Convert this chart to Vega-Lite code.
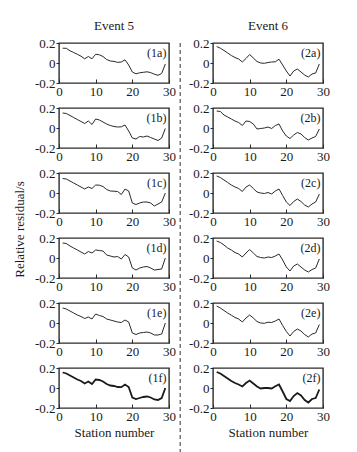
{
 "$schema": "https://vega.github.io/schema/vega-lite/v6.json",
 "padding": {"left": 13, "top": 19, "right": 5, "bottom": 5},
 "background": "white",
 "config": {
  "view": {"stroke": "#2b2b2b", "strokeWidth": 1.4},
  "font": "Liberation Serif",
  "axis": {"domain": false, "grid": false, "labelFont": "Liberation Serif", "labelFontSize": 13, "labelColor": "#1a1a1a", "tickColor": "#2b2b2b", "labelFlush": false, "labelOverlap": false, "labelBound": false, "titleFont": "Liberation Serif", "titleFontSize": 13, "titleFontWeight": "normal", "titleColor": "#1a1a1a", "titlePadding": 3},
  "axisX": {"tickSize": -4, "labelPadding": 6, "labelOverlap": false},
  "axisY": {"tickSize": 3, "labelPadding": 1, "labelOverlap": false},
  "title": {"font": "Liberation Serif", "fontSize": 13, "fontWeight": "normal", "color": "#1a1a1a", "offset": 0}
 },
 "data": {"values": [
  {"s":1,"1a":0.148,"1b":0.15,"1c":0.145,"1d":0.15,"1e":0.15,"1f":0.155,"2a":0.165,"2b":0.17,"2c":0.17,"2d":0.17,"2e":0.17,"2f":0.16},
  {"s":2,"1a":0.147,"1b":0.145,"1c":0.14,"1d":0.145,"1e":0.14,"1f":0.145,"2a":0.148,"2b":0.165,"2c":0.155,"2d":0.155,"2e":0.15,"2f":0.145},
  {"s":3,"1a":0.122,"1b":0.125,"1c":0.12,"1d":0.12,"1e":0.12,"1f":0.125,"2a":0.125,"2b":0.13,"2c":0.13,"2d":0.13,"2e":0.125,"2f":0.12},
  {"s":4,"1a":0.105,"1b":0.105,"1c":0.1,"1d":0.1,"1e":0.1,"1f":0.105,"2a":0.1,"2b":0.11,"2c":0.105,"2d":0.1,"2e":0.1,"2f":0.095},
  {"s":5,"1a":0.087,"1b":0.085,"1c":0.08,"1d":0.08,"1e":0.08,"1f":0.085,"2a":0.075,"2b":0.09,"2c":0.08,"2d":0.08,"2e":0.078,"2f":0.07},
  {"s":6,"1a":0.068,"1b":0.065,"1c":0.06,"1d":0.06,"1e":0.065,"1f":0.07,"2a":0.055,"2b":0.07,"2c":0.06,"2d":0.055,"2e":0.055,"2f":0.05},
  {"s":7,"1a":0.042,"1b":0.045,"1c":0.04,"1d":0.04,"1e":0.045,"1f":0.045,"2a":0.04,"2b":0.055,"2c":0.045,"2d":0.04,"2e":0.04,"2f":0.035},
  {"s":8,"1a":0.065,"1b":0.07,"1c":0.06,"1d":0.065,"1e":0.06,"1f":0.065,"2a":0.01,"2b":0.025,"2c":0.015,"2d":0.01,"2e":0.01,"2f":0.015},
  {"s":9,"1a":0.042,"1b":0.035,"1c":0.045,"1d":0.05,"1e":0.04,"1f":0.04,"2a":0.045,"2b":0.07,"2c":0.06,"2d":0.05,"2e":0.05,"2f":0.05},
  {"s":10,"1a":0.088,"1b":0.09,"1c":0.08,"1d":0.08,"1e":0.09,"1f":0.085,"2a":0.085,"2b":0.065,"2c":0.08,"2d":0.085,"2e":0.08,"2f":0.075},
  {"s":11,"1a":0.082,"1b":0.08,"1c":0.078,"1d":0.075,"1e":0.075,"1f":0.08,"2a":0.05,"2b":0.04,"2c":0.045,"2d":0.05,"2e":0.05,"2f":0.045},
  {"s":12,"1a":0.065,"1b":0.06,"1c":0.065,"1d":0.07,"1e":0.065,"1f":0.065,"2a":0.015,"2b":-0.01,"2c":0.01,"2d":0.015,"2e":0.015,"2f":0.015},
  {"s":13,"1a":0.035,"1b":0.04,"1c":0.035,"1d":0.03,"1e":0.04,"1f":0.04,"2a":0.0,"2b":-0.005,"2c":0.0,"2d":0.005,"2e":0.0,"2f":-0.005},
  {"s":14,"1a":0.02,"1b":0.025,"1c":0.02,"1d":0.02,"1e":0.03,"1f":0.025,"2a":-0.003,"2b":0.0,"2c":-0.005,"2d":0.0,"2e":-0.003,"2f":0.0},
  {"s":15,"1a":0.016,"1b":0.015,"1c":0.018,"1d":0.01,"1e":0.02,"1f":0.02,"2a":0.005,"2b":0.01,"2c":0.005,"2d":0.01,"2e":0.008,"2f":0.0},
  {"s":16,"1a":0.006,"1b":0.01,"1c":0.015,"1d":0.015,"1e":0.01,"1f":0.01,"2a":0.01,"2b":-0.005,"2c":-0.01,"2d":0.005,"2e":0.005,"2f":-0.005},
  {"s":17,"1a":0.01,"1b":0.012,"1c":-0.015,"1d":-0.01,"1e":0.005,"1f":0.008,"2a":0.012,"2b":0.025,"2c":0.02,"2d":0.02,"2e":0.02,"2f":0.017},
  {"s":18,"1a":0.032,"1b":0.03,"1c":0.04,"1d":0.035,"1e":0.03,"1f":0.035,"2a":0.038,"2b":0.04,"2c":0.04,"2d":0.04,"2e":0.04,"2f":0.035},
  {"s":19,"1a":-0.02,"1b":-0.03,"1c":0.02,"1d":0.01,"1e":0.01,"1f":0.01,"2a":-0.02,"2b":-0.03,"2c":-0.025,"2d":-0.02,"2e":-0.025,"2f":-0.035},
  {"s":20,"1a":-0.09,"1b":-0.1,"1c":-0.1,"1d":-0.1,"1e":-0.1,"1f":-0.095,"2a":-0.08,"2b":-0.08,"2c":-0.09,"2d":-0.09,"2e":-0.085,"2f":-0.11},
  {"s":21,"1a":-0.108,"1b":-0.11,"1c":-0.115,"1d":-0.12,"1e":-0.115,"1f":-0.11,"2a":-0.13,"2b":-0.105,"2c":-0.125,"2d":-0.13,"2e":-0.13,"2f":-0.13},
  {"s":22,"1a":-0.098,"1b":-0.085,"1c":-0.1,"1d":-0.1,"1e":-0.1,"1f":-0.1,"2a":-0.08,"2b":-0.07,"2c":-0.085,"2d":-0.08,"2e":-0.085,"2f":-0.08},
  {"s":23,"1a":-0.093,"1b":-0.09,"1c":-0.09,"1d":-0.09,"1e":-0.095,"1f":-0.09,"2a":-0.06,"2b":-0.045,"2c":-0.06,"2d":-0.06,"2e":-0.06,"2f":-0.05},
  {"s":24,"1a":-0.088,"1b":-0.08,"1c":-0.09,"1d":-0.085,"1e":-0.09,"1f":-0.085,"2a":-0.09,"2b":-0.06,"2c":-0.085,"2d":-0.09,"2e":-0.08,"2f":-0.075},
  {"s":25,"1a":-0.096,"1b":-0.095,"1c":-0.1,"1d":-0.1,"1e":-0.1,"1f":-0.095,"2a":-0.12,"2b":-0.095,"2c":-0.12,"2d":-0.12,"2e":-0.115,"2f":-0.12},
  {"s":26,"1a":-0.112,"1b":-0.11,"1c":-0.13,"1d":-0.12,"1e":-0.12,"1f":-0.115,"2a":-0.14,"2b":-0.12,"2c":-0.14,"2d":-0.14,"2e":-0.14,"2f":-0.145},
  {"s":27,"1a":-0.123,"1b":-0.125,"1c":-0.11,"1d":-0.115,"1e":-0.12,"1f":-0.12,"2a":-0.11,"2b":-0.1,"2c":-0.11,"2d":-0.115,"2e":-0.11,"2f":-0.11},
  {"s":28,"1a":-0.105,"1b":-0.1,"1c":-0.09,"1d":-0.11,"1e":-0.11,"1f":-0.1,"2a":-0.1,"2b":-0.085,"2c":-0.09,"2d":-0.1,"2e":-0.1,"2f":-0.1},
  {"s":29,"1a":-0.01,"1b":-0.005,"1c":0.0,"1d":0.0,"1e":0.0,"1f":0.0,"2a":-0.01,"2b":-0.01,"2c":-0.01,"2d":-0.01,"2e":-0.015,"2f":-0.015}
 ]},
 "transform": [{"fold": ["1a","1b","1c","1d","1e","1f","2a","2b","2c","2d","2e","2f"], "as": ["panel","r"]}],
 "spacing": 2,
 "hconcat": [
  {
   "title": {"text": "Relative residual/s", "orient": "left", "anchor": "middle", "offset": 7},
   "bounds": "flush",
   "spacing": 25,
   "vconcat": [
    {"width": 110, "height": 40, "title": {"text": "Event 5"},
     "layer": [
      {"transform": [{"filter": "datum.panel == '1a'"}], "mark": {"type": "line", "color": "#2a2a2a", "strokeWidth": 1},
       "encoding": {"x": {"field": "s", "type": "quantitative", "scale": {"domain": [0, 30], "nice": false}, "axis": {"values": [0, 10, 20, 30], "tickCount": 10, "title": null, "labelOverlap": false}},
                    "y": {"field": "r", "type": "quantitative", "scale": {"domain": [-0.2, 0.2], "nice": false}, "axis": {"values": [-0.2, 0, 0.2], "tickCount": 10, "title": null, "labelOverlap": false, "labelExpr": "datum.value == 0 ? '0' : (datum.value < 0 ? '-' : '') + format(abs(datum.value), '.1f')"}}}},
      {"data": {"values": [{"label": "(1a)"}]}, "mark": {"type": "text", "align": "right", "baseline": "middle", "fontSize": 12, "font": "Liberation Serif", "color": "#1a1a1a"},
       "encoding": {"x": {"datum": 29.3, "type": "quantitative"}, "y": {"datum": 0.1, "type": "quantitative"}, "text": {"field": "label"}}}
     ]},
    {"width": 110, "height": 40,
     "layer": [
      {"transform": [{"filter": "datum.panel == '1b'"}], "mark": {"type": "line", "color": "#2a2a2a", "strokeWidth": 1},
       "encoding": {"x": {"field": "s", "type": "quantitative", "scale": {"domain": [0, 30], "nice": false}, "axis": {"values": [0, 10, 20, 30], "tickCount": 10, "title": null, "labelOverlap": false}},
                    "y": {"field": "r", "type": "quantitative", "scale": {"domain": [-0.2, 0.2], "nice": false}, "axis": {"values": [-0.2, 0, 0.2], "tickCount": 10, "title": null, "labelOverlap": false, "labelExpr": "datum.value == 0 ? '0' : (datum.value < 0 ? '-' : '') + format(abs(datum.value), '.1f')"}}}},
      {"data": {"values": [{"label": "(1b)"}]}, "mark": {"type": "text", "align": "right", "baseline": "middle", "fontSize": 12, "font": "Liberation Serif", "color": "#1a1a1a"},
       "encoding": {"x": {"datum": 29.3, "type": "quantitative"}, "y": {"datum": 0.1, "type": "quantitative"}, "text": {"field": "label"}}}
     ]},
    {"width": 110, "height": 40,
     "layer": [
      {"transform": [{"filter": "datum.panel == '1c'"}], "mark": {"type": "line", "color": "#2a2a2a", "strokeWidth": 1},
       "encoding": {"x": {"field": "s", "type": "quantitative", "scale": {"domain": [0, 30], "nice": false}, "axis": {"values": [0, 10, 20, 30], "tickCount": 10, "title": null, "labelOverlap": false}},
                    "y": {"field": "r", "type": "quantitative", "scale": {"domain": [-0.2, 0.2], "nice": false}, "axis": {"values": [-0.2, 0, 0.2], "tickCount": 10, "title": null, "labelOverlap": false, "labelExpr": "datum.value == 0 ? '0' : (datum.value < 0 ? '-' : '') + format(abs(datum.value), '.1f')"}}}},
      {"data": {"values": [{"label": "(1c)"}]}, "mark": {"type": "text", "align": "right", "baseline": "middle", "fontSize": 12, "font": "Liberation Serif", "color": "#1a1a1a"},
       "encoding": {"x": {"datum": 29.3, "type": "quantitative"}, "y": {"datum": 0.1, "type": "quantitative"}, "text": {"field": "label"}}}
     ]},
    {"width": 110, "height": 40,
     "layer": [
      {"transform": [{"filter": "datum.panel == '1d'"}], "mark": {"type": "line", "color": "#2a2a2a", "strokeWidth": 1},
       "encoding": {"x": {"field": "s", "type": "quantitative", "scale": {"domain": [0, 30], "nice": false}, "axis": {"values": [0, 10, 20, 30], "tickCount": 10, "title": null, "labelOverlap": false}},
                    "y": {"field": "r", "type": "quantitative", "scale": {"domain": [-0.2, 0.2], "nice": false}, "axis": {"values": [-0.2, 0, 0.2], "tickCount": 10, "title": null, "labelOverlap": false, "labelExpr": "datum.value == 0 ? '0' : (datum.value < 0 ? '-' : '') + format(abs(datum.value), '.1f')"}}}},
      {"data": {"values": [{"label": "(1d)"}]}, "mark": {"type": "text", "align": "right", "baseline": "middle", "fontSize": 12, "font": "Liberation Serif", "color": "#1a1a1a"},
       "encoding": {"x": {"datum": 29.3, "type": "quantitative"}, "y": {"datum": 0.1, "type": "quantitative"}, "text": {"field": "label"}}}
     ]},
    {"width": 110, "height": 40,
     "layer": [
      {"transform": [{"filter": "datum.panel == '1e'"}], "mark": {"type": "line", "color": "#2a2a2a", "strokeWidth": 1},
       "encoding": {"x": {"field": "s", "type": "quantitative", "scale": {"domain": [0, 30], "nice": false}, "axis": {"values": [0, 10, 20, 30], "tickCount": 10, "title": null, "labelOverlap": false}},
                    "y": {"field": "r", "type": "quantitative", "scale": {"domain": [-0.2, 0.2], "nice": false}, "axis": {"values": [-0.2, 0, 0.2], "tickCount": 10, "title": null, "labelOverlap": false, "labelExpr": "datum.value == 0 ? '0' : (datum.value < 0 ? '-' : '') + format(abs(datum.value), '.1f')"}}}},
      {"data": {"values": [{"label": "(1e)"}]}, "mark": {"type": "text", "align": "right", "baseline": "middle", "fontSize": 12, "font": "Liberation Serif", "color": "#1a1a1a"},
       "encoding": {"x": {"datum": 29.3, "type": "quantitative"}, "y": {"datum": 0.1, "type": "quantitative"}, "text": {"field": "label"}}}
     ]},
    {"width": 110, "height": 40,
     "layer": [
      {"transform": [{"filter": "datum.panel == '1f'"}], "mark": {"type": "line", "color": "#1a1a1a", "strokeWidth": 1.8},
       "encoding": {"x": {"field": "s", "type": "quantitative", "scale": {"domain": [0, 30], "nice": false}, "axis": {"values": [0, 10, 20, 30], "tickCount": 10, "title": "Station number", "labelOverlap": false}},
                    "y": {"field": "r", "type": "quantitative", "scale": {"domain": [-0.2, 0.2], "nice": false}, "axis": {"values": [-0.2, 0, 0.2], "tickCount": 10, "title": null, "labelOverlap": false, "labelExpr": "datum.value == 0 ? '0' : (datum.value < 0 ? '-' : '') + format(abs(datum.value), '.1f')"}}}},
      {"data": {"values": [{"label": "(1f)"}]}, "mark": {"type": "text", "align": "right", "baseline": "middle", "fontSize": 12, "font": "Liberation Serif", "color": "#1a1a1a"},
       "encoding": {"x": {"datum": 29.3, "type": "quantitative"}, "y": {"datum": 0.1, "type": "quantitative"}, "text": {"field": "label"}}}
     ]}
   ]
  },
  {
   "width": 6, "height": 424,
   "view": {"stroke": null},
   "data": {"values": [{"k": 1}]},
   "mark": {"type": "rule", "strokeDash": [4, 3], "color": "#555555", "strokeWidth": 1.2},
   "encoding": {"x": {"datum": 0.2, "type": "quantitative", "scale": {"domain": [0, 1]}, "axis": null}}
  },
  {
   "bounds": "flush",
   "spacing": 25,
   "vconcat": [
    {"width": 110, "height": 40, "title": {"text": "Event 6"},
     "layer": [
      {"transform": [{"filter": "datum.panel == '2a'"}], "mark": {"type": "line", "color": "#2a2a2a", "strokeWidth": 1},
       "encoding": {"x": {"field": "s", "type": "quantitative", "scale": {"domain": [0, 30], "nice": false}, "axis": {"values": [0, 10, 20, 30], "tickCount": 10, "title": null, "labelOverlap": false}},
                    "y": {"field": "r", "type": "quantitative", "scale": {"domain": [-0.2, 0.2], "nice": false}, "axis": {"values": [-0.2, 0, 0.2], "tickCount": 10, "title": null, "labelOverlap": false, "labelExpr": "datum.value == 0 ? '0' : (datum.value < 0 ? '-' : '') + format(abs(datum.value), '.1f')"}}}},
      {"data": {"values": [{"label": "(2a)"}]}, "mark": {"type": "text", "align": "right", "baseline": "middle", "fontSize": 12, "font": "Liberation Serif", "color": "#1a1a1a"},
       "encoding": {"x": {"datum": 29.3, "type": "quantitative"}, "y": {"datum": 0.1, "type": "quantitative"}, "text": {"field": "label"}}}
     ]},
    {"width": 110, "height": 40,
     "layer": [
      {"transform": [{"filter": "datum.panel == '2b'"}], "mark": {"type": "line", "color": "#2a2a2a", "strokeWidth": 1},
       "encoding": {"x": {"field": "s", "type": "quantitative", "scale": {"domain": [0, 30], "nice": false}, "axis": {"values": [0, 10, 20, 30], "tickCount": 10, "title": null, "labelOverlap": false}},
                    "y": {"field": "r", "type": "quantitative", "scale": {"domain": [-0.2, 0.2], "nice": false}, "axis": {"values": [-0.2, 0, 0.2], "tickCount": 10, "title": null, "labelOverlap": false, "labelExpr": "datum.value == 0 ? '0' : (datum.value < 0 ? '-' : '') + format(abs(datum.value), '.1f')"}}}},
      {"data": {"values": [{"label": "(2b)"}]}, "mark": {"type": "text", "align": "right", "baseline": "middle", "fontSize": 12, "font": "Liberation Serif", "color": "#1a1a1a"},
       "encoding": {"x": {"datum": 29.3, "type": "quantitative"}, "y": {"datum": 0.1, "type": "quantitative"}, "text": {"field": "label"}}}
     ]},
    {"width": 110, "height": 40,
     "layer": [
      {"transform": [{"filter": "datum.panel == '2c'"}], "mark": {"type": "line", "color": "#2a2a2a", "strokeWidth": 1},
       "encoding": {"x": {"field": "s", "type": "quantitative", "scale": {"domain": [0, 30], "nice": false}, "axis": {"values": [0, 10, 20, 30], "tickCount": 10, "title": null, "labelOverlap": false}},
                    "y": {"field": "r", "type": "quantitative", "scale": {"domain": [-0.2, 0.2], "nice": false}, "axis": {"values": [-0.2, 0, 0.2], "tickCount": 10, "title": null, "labelOverlap": false, "labelExpr": "datum.value == 0 ? '0' : (datum.value < 0 ? '-' : '') + format(abs(datum.value), '.1f')"}}}},
      {"data": {"values": [{"label": "(2c)"}]}, "mark": {"type": "text", "align": "right", "baseline": "middle", "fontSize": 12, "font": "Liberation Serif", "color": "#1a1a1a"},
       "encoding": {"x": {"datum": 29.3, "type": "quantitative"}, "y": {"datum": 0.1, "type": "quantitative"}, "text": {"field": "label"}}}
     ]},
    {"width": 110, "height": 40,
     "layer": [
      {"transform": [{"filter": "datum.panel == '2d'"}], "mark": {"type": "line", "color": "#2a2a2a", "strokeWidth": 1},
       "encoding": {"x": {"field": "s", "type": "quantitative", "scale": {"domain": [0, 30], "nice": false}, "axis": {"values": [0, 10, 20, 30], "tickCount": 10, "title": null, "labelOverlap": false}},
                    "y": {"field": "r", "type": "quantitative", "scale": {"domain": [-0.2, 0.2], "nice": false}, "axis": {"values": [-0.2, 0, 0.2], "tickCount": 10, "title": null, "labelOverlap": false, "labelExpr": "datum.value == 0 ? '0' : (datum.value < 0 ? '-' : '') + format(abs(datum.value), '.1f')"}}}},
      {"data": {"values": [{"label": "(2d)"}]}, "mark": {"type": "text", "align": "right", "baseline": "middle", "fontSize": 12, "font": "Liberation Serif", "color": "#1a1a1a"},
       "encoding": {"x": {"datum": 29.3, "type": "quantitative"}, "y": {"datum": 0.1, "type": "quantitative"}, "text": {"field": "label"}}}
     ]},
    {"width": 110, "height": 40,
     "layer": [
      {"transform": [{"filter": "datum.panel == '2e'"}], "mark": {"type": "line", "color": "#2a2a2a", "strokeWidth": 1},
       "encoding": {"x": {"field": "s", "type": "quantitative", "scale": {"domain": [0, 30], "nice": false}, "axis": {"values": [0, 10, 20, 30], "tickCount": 10, "title": null, "labelOverlap": false}},
                    "y": {"field": "r", "type": "quantitative", "scale": {"domain": [-0.2, 0.2], "nice": false}, "axis": {"values": [-0.2, 0, 0.2], "tickCount": 10, "title": null, "labelOverlap": false, "labelExpr": "datum.value == 0 ? '0' : (datum.value < 0 ? '-' : '') + format(abs(datum.value), '.1f')"}}}},
      {"data": {"values": [{"label": "(2e)"}]}, "mark": {"type": "text", "align": "right", "baseline": "middle", "fontSize": 12, "font": "Liberation Serif", "color": "#1a1a1a"},
       "encoding": {"x": {"datum": 29.3, "type": "quantitative"}, "y": {"datum": 0.1, "type": "quantitative"}, "text": {"field": "label"}}}
     ]},
    {"width": 110, "height": 40,
     "layer": [
      {"transform": [{"filter": "datum.panel == '2f'"}], "mark": {"type": "line", "color": "#1a1a1a", "strokeWidth": 1.8},
       "encoding": {"x": {"field": "s", "type": "quantitative", "scale": {"domain": [0, 30], "nice": false}, "axis": {"values": [0, 10, 20, 30], "tickCount": 10, "title": "Station number", "labelOverlap": false}},
                    "y": {"field": "r", "type": "quantitative", "scale": {"domain": [-0.2, 0.2], "nice": false}, "axis": {"values": [-0.2, 0, 0.2], "tickCount": 10, "title": null, "labelOverlap": false, "labelExpr": "datum.value == 0 ? '0' : (datum.value < 0 ? '-' : '') + format(abs(datum.value), '.1f')"}}}},
      {"data": {"values": [{"label": "(2f)"}]}, "mark": {"type": "text", "align": "right", "baseline": "middle", "fontSize": 12, "font": "Liberation Serif", "color": "#1a1a1a"},
       "encoding": {"x": {"datum": 29.3, "type": "quantitative"}, "y": {"datum": 0.1, "type": "quantitative"}, "text": {"field": "label"}}}
     ]}
   ]
  }
 ]
}
